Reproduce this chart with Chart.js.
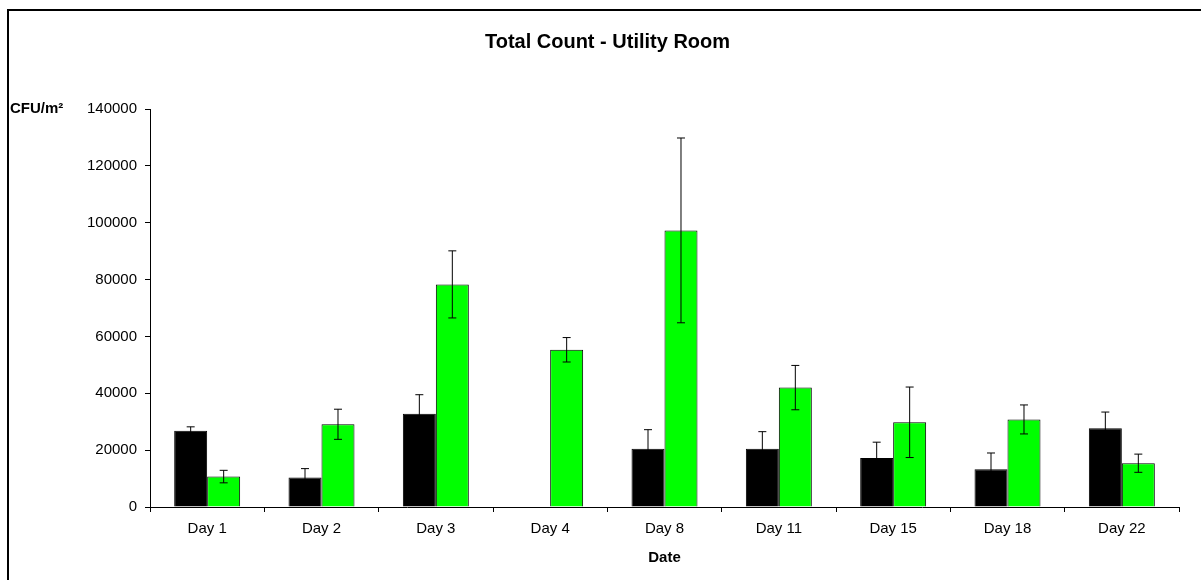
<!DOCTYPE html>
<html lang="en">
<head>
    <meta charset="UTF-8">
    <title>Total Count - Utility Room</title>
    <style>
        body {
            margin: 0;
            background: #fff;
            overflow: hidden;
        }
        #frame {
            position: absolute;
            left: 7px;
            top: 9px;
            width: 1250px;
            height: 650px;
            border: 2px solid #000;
        }
        #chart-container {
            position: absolute;
            left: 0;
            top: 0;
            width: 1201px;
            height: 580px;
        }
    </style>
    <script src="https://cdn.jsdelivr.net/npm/chart.js"></script>
</head>
<body>
    <div id="frame"></div>
    <div id="chart-container">
        <canvas id="graph"></canvas>
    </div>
    <script>
        const days = ['Day 1', 'Day 2', 'Day 3', 'Day 4', 'Day 8', 'Day 11', 'Day 15', 'Day 18', 'Day 22'];
        const blackValues = [26800, 10400, 32800, null, 20500, 20500, 17200, 13300, 27700];
        const blackErrors = [1400, 3100, 6700, null, 6700, 6000, 5600, 5700, 5700];
        const greenValues = [10700, 29100, 78300, 55300, 97300, 42000, 29800, 30800, 15400];
        const greenErrors = [2200, 5300, 11800, 4300, 32500, 7800, 12400, 5100, 3200];
        const yTicks = [0, 20000, 40000, 60000, 80000, 100000, 120000, 140000];

        const fontFamily = 'Arial, "Liberation Sans", sans-serif';

        // error bars drawn on top of the bars, using the y scale
        const errorBars = {
            id: 'errorBars',
            afterDatasetsDraw(chart) {
                const ctx = chart.ctx;
                const y = chart.scales.y;
                chart.data.datasets.forEach((ds, di) => {
                    const meta = chart.getDatasetMeta(di);
                    meta.data.forEach((bar, i) => {
                        const v = ds.data[i];
                        const e = ds.errors[i];
                        if (v == null || e == null) return;
                        const top = y.getPixelForValue(v + e);
                        const bot = y.getPixelForValue(v - e);
                        ctx.save();
                        ctx.strokeStyle = '#000';
                        ctx.lineWidth = 1;
                        ctx.beginPath();
                        ctx.moveTo(bar.x, top);
                        ctx.lineTo(bar.x, bot);
                        ctx.moveTo(bar.x - 4, top);
                        ctx.lineTo(bar.x + 4, top);
                        ctx.moveTo(bar.x - 4, bot);
                        ctx.lineTo(bar.x + 4, bot);
                        ctx.stroke();
                        ctx.restore();
                    });
                });
            }
        };

        // horizontal unit label at the top of the y axis
        const unitLabel = {
            id: 'unitLabel',
            afterDraw(chart) {
                const ctx = chart.ctx;
                ctx.save();
                ctx.font = 'bold 15px ' + fontFamily;
                ctx.fillStyle = '#000';
                ctx.textBaseline = 'middle';
                ctx.fillText('CFU/m²', 10, chart.chartArea.top);
                ctx.restore();
            }
        };

        window.onload = function() {
            const ctx = document.getElementById('graph').getContext('2d');
            new Chart(ctx, {
                type: 'bar',
                data: {
                    labels: days,
                    datasets: [{
                        label: 'Black',
                        data: blackValues,
                        errors: blackErrors,
                        backgroundColor: '#000000',
                        borderColor: '#000000',
                        borderWidth: 1
                    }, {
                        label: 'Green',
                        data: greenValues,
                        errors: greenErrors,
                        backgroundColor: '#00ff00',
                        borderColor: '#000000',
                        borderWidth: 1
                    }]
                },
                options: {
                    responsive: true,
                    maintainAspectRatio: false,
                    animation: false,
                    datasets: {
                        bar: {
                            categoryPercentage: 0.577,
                            barPercentage: 1
                        }
                    },
                    layout: {
                        padding: { left: 36, right: 22, top: 0, bottom: 0 }
                    },
                    scales: {
                        x: {
                            afterFit(scale) { scale.height = 73; },
                            grid: {
                                offset: true,
                                drawOnChartArea: false,
                                tickLength: 5,
                                color: '#000'
                            },
                            border: { color: '#000', width: 1 },
                            ticks: {
                                color: '#000',
                                padding: 8,
                                maxRotation: 0,
                                font: { family: fontFamily, size: 15 }
                            },
                            title: {
                                display: true,
                                text: 'Date',
                                color: '#000',
                                padding: { top: 0, bottom: 13 },
                                font: { family: fontFamily, size: 15, weight: 'bold' }
                            }
                        },
                        y: {
                            min: 0,
                            max: 140000,
                            afterFit(scale) { scale.width = 114; },
                            afterBuildTicks(scale) {
                                scale.ticks = yTicks.map(v => ({ value: v }));
                            },
                            grid: {
                                drawOnChartArea: false,
                                tickLength: 5,
                                color: '#000'
                            },
                            border: { color: '#000', width: 1 },
                            ticks: {
                                color: '#000',
                                padding: 8,
                                font: { family: fontFamily, size: 15 },
                                callback: v => String(v)
                            }
                        }
                    },
                    plugins: {
                        legend: { display: false },
                        tooltip: { enabled: false },
                        title: {
                            display: true,
                            text: 'Total Count - Utility Room',
                            color: '#000',
                            padding: { top: 30, bottom: 55 },
                            font: { family: fontFamily, size: 20, weight: 'bold' }
                        }
                    }
                },
                plugins: [errorBars, unitLabel]
            });
        };
    </script>
</body>
</html>
